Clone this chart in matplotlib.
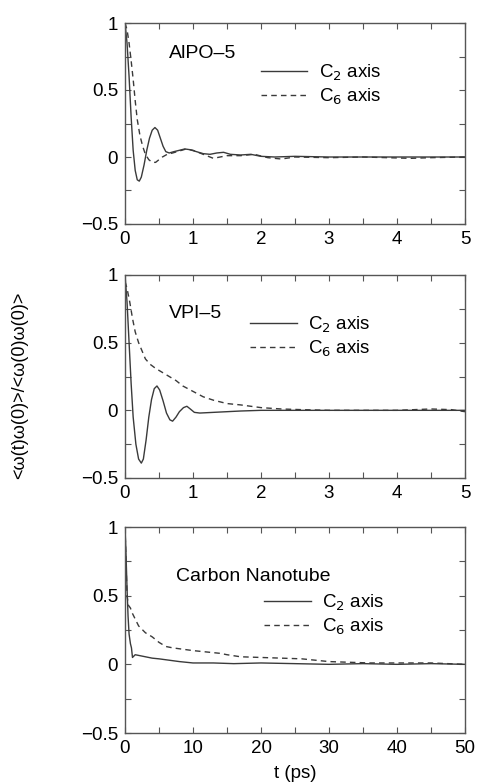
import matplotlib
matplotlib.use("Agg")
import matplotlib.pyplot as plt
from matplotlib.ticker import MultipleLocator

plt.rcParams['font.family'] = ['Liberation Sans', 'DejaVu Sans']
plt.rcParams['axes.unicode_minus'] = True

# AlPO-5
alpo_t_c2 = [0, 0.03, 0.06, 0.09, 0.12, 0.15, 0.18, 0.21, 0.24, 0.28, 0.32, 0.36, 0.40, 0.44,
             0.48, 0.52, 0.56, 0.60, 0.65, 0.72, 0.80, 0.88, 0.95, 1.05, 1.15, 1.25, 1.35,
             1.45, 1.55, 1.7, 1.85, 2.0, 2.2, 2.5, 3.0, 3.5, 4.0, 4.5, 5.0]
alpo_c2 = [1.0, 0.85, 0.6, 0.3, 0.05, -0.1, -0.17, -0.18, -0.15, -0.06, 0.05, 0.14, 0.2, 0.22,
           0.2, 0.14, 0.08, 0.04, 0.03, 0.04, 0.05, 0.06, 0.055, 0.04, 0.025, 0.02, 0.03,
           0.035, 0.02, 0.015, 0.02, 0.005, 0.0, 0.005, 0.0, 0.0, 0.0, 0.0, 0.0]
alpo_t_c6 = [0, 0.03, 0.06, 0.09, 0.12, 0.15, 0.18, 0.22, 0.26, 0.30, 0.35, 0.40, 0.45, 0.5,
             0.55, 0.62, 0.7, 0.8, 0.9, 1.0, 1.1, 1.2, 1.3, 1.4, 1.5, 1.7, 1.9, 2.1, 2.3,
             2.5, 3.0, 3.5, 4.2, 4.5, 5.0]
alpo_c6 = [1.0, 0.95, 0.85, 0.72, 0.58, 0.42, 0.28, 0.16, 0.08, 0.02, -0.02, -0.04, -0.04, -0.02,
           0.0, 0.02, 0.03, 0.045, 0.06, 0.05, 0.03, 0.01, -0.01, 0.0, 0.01, 0.01, 0.02, -0.005,
           -0.015, 0.0, -0.005, 0.0, -0.01, -0.005, 0.0]

# VPI-5
vpi_t_c2 = [0, 0.03, 0.06, 0.09, 0.12, 0.16, 0.2, 0.24, 0.27, 0.31, 0.35, 0.39, 0.43, 0.47,
            0.51, 0.56, 0.61, 0.66, 0.70, 0.75, 0.80, 0.86, 0.91, 0.96, 1.02, 1.1, 1.3, 1.5,
            1.7, 2.0, 3.0, 4.0, 5.0]
vpi_c2 = [1.0, 0.8, 0.5, 0.2, -0.05, -0.25, -0.36, -0.39, -0.36, -0.22, -0.05, 0.08, 0.16, 0.18,
          0.15, 0.07, -0.02, -0.07, -0.08, -0.05, -0.01, 0.02, 0.03, 0.01, -0.015, -0.02, -0.015,
          -0.01, -0.005, 0.0, 0.0, 0.0, 0.0]
vpi_t_c6 = [0, 0.03, 0.07, 0.11, 0.15, 0.2, 0.25, 0.3, 0.37, 0.45, 0.55, 0.65, 0.75, 0.85,
            1.0, 1.15, 1.3, 1.5, 1.7, 2.0, 2.3, 2.6, 3.0, 3.5, 4.0, 4.5, 4.8, 5.0]
vpi_c6 = [0.95, 0.9, 0.8, 0.68, 0.58, 0.5, 0.44, 0.38, 0.34, 0.31, 0.28, 0.25, 0.22, 0.18,
          0.14, 0.1, 0.075, 0.05, 0.04, 0.02, 0.01, 0.005, 0.0, 0.0, 0.0, 0.01, 0.005, -0.01]

# Carbon nanotube
cnt_t_c2 = [0, 0.15, 0.3, 0.45, 0.6, 0.8, 0.95, 1.1, 1.5, 2.0, 3.0, 4.0, 5.0, 6.5, 8, 10, 13,
            16, 20, 25, 30, 35, 40, 45, 50]
cnt_c2 = [1.0, 0.8, 0.55, 0.35, 0.22, 0.15, 0.12, 0.05, 0.07, 0.065, 0.055, 0.045, 0.04, 0.03,
          0.02, 0.01, 0.01, 0.005, 0.01, 0.005, 0.0, 0.005, 0.0, 0.005, 0.0]
cnt_t_c6 = [0, 0.15, 0.3, 0.5, 0.8, 1.0, 1.5, 2.0, 3.0, 4.0, 5.0, 6.0, 7.0, 8.5, 10, 12, 14, 15,
            17, 20, 23, 26, 28, 30, 33, 36, 40, 45, 50]
cnt_c6 = [1.0, 0.75, 0.5, 0.43, 0.41, 0.38, 0.33, 0.28, 0.23, 0.2, 0.16, 0.13, 0.12, 0.11, 0.1,
          0.09, 0.08, 0.07, 0.055, 0.05, 0.045, 0.04, 0.03, 0.02, 0.015, 0.01, 0.01, 0.01, 0.0]

names = ["AlPO\u20135", "VPI\u20135", "Carbon Nanotube"]
xmax = [5, 5, 50]

fig = plt.figure(figsize=(4.78, 7.83), dpi=100)
W, H = 478.0, 783.0
boxes = [(23, 224), (275, 478), (527, 733)]
left, right = 125, 465

series = [
    (alpo_t_c2, alpo_c2, alpo_t_c6, alpo_c6),
    (vpi_t_c2, vpi_c2, vpi_t_c6, vpi_c6),
    (cnt_t_c2, cnt_c2, cnt_t_c6, cnt_c6),
]
name_pos = [(0.13, 0.85), (0.13, 0.81), (0.15, 0.76)]
leg_anchor = [(0.36, 0.87), (0.33, 0.87), (0.37, 0.745)]

lc = '#3a3a3a'
for i, (top, bot) in enumerate(boxes):
    ax = fig.add_axes([left / W, 1 - bot / H, (right - left) / W, (bot - top) / H])
    t2, y2, t6, y6 = series[i]
    ax.plot(t2, y2, '-', color=lc, lw=1.0, label='C$_2$ axis')
    ax.plot(t6, y6, '--', color=lc, lw=1.0, dashes=(4, 3), label='C$_6$ axis')
    ax.set_xlim(0, xmax[i])
    ax.set_ylim(-0.5, 1)
    ax.xaxis.set_major_locator(MultipleLocator(xmax[i] / 5))
    ax.xaxis.set_minor_locator(MultipleLocator(xmax[i] / 10))
    ax.yaxis.set_major_locator(MultipleLocator(0.5))
    ax.yaxis.set_minor_locator(MultipleLocator(0.25))
    ax.set_yticks([-0.5, 0, 0.5, 1])
    ax.set_yticklabels(['\u22120.5', '0', '0.5', '1'])
    ax.tick_params(which='both', direction='in', top=True, right=True, length=4,
                   width=0.8, color='#555555', labelsize=13.5, pad=5)
    for s in ax.spines.values():
        s.set_color('#555555')
        s.set_linewidth(1.0)
    ax.text(name_pos[i][0], name_pos[i][1], names[i], transform=ax.transAxes,
            fontsize=14, va='center', ha='left')
    ax.legend(loc='upper left', bbox_to_anchor=leg_anchor[i], frameon=False, fontsize=13.5,
              handlelength=2.5, handletextpad=0.6, labelspacing=0.2, borderpad=0.2)
    if i == 2:
        ax.set_xlabel('t (ps)', fontsize=13.5, labelpad=6)

fig.text(20 / W, 1 - 385 / H, '<\u03c9(t)\u03c9(0)>/<\u03c9(0)\u03c9(0)>', rotation=90,
         ha='center', va='center', fontsize=13)

fig.savefig('out.png', dpi=100)
